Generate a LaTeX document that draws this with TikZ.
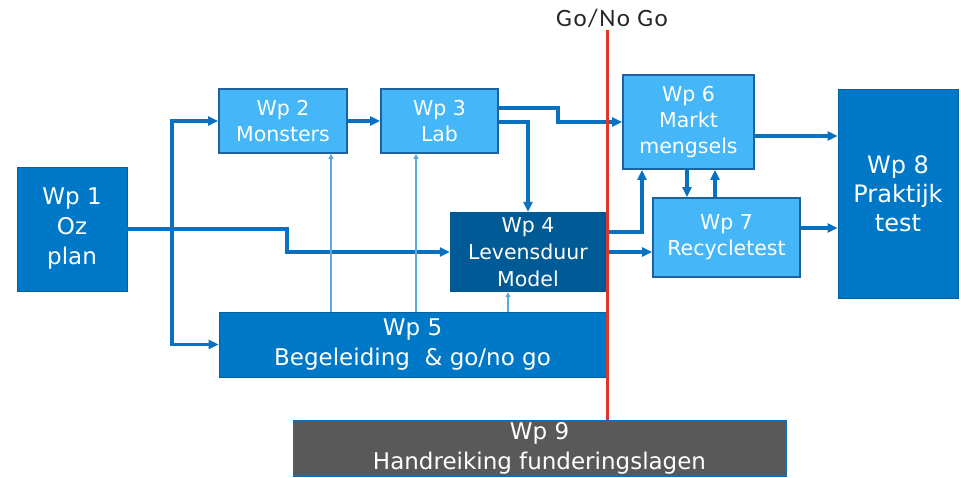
\documentclass[tikz,border=0pt]{standalone}
\usepackage{fontspec}
\setmainfont{DejaVu Sans}
\newfontfamily\calfont[LetterSpace=6]{Carlito}
\usetikzlibrary{arrows.meta,calc}
\definecolor{midblue}{HTML}{0078C8}
\definecolor{lightblue}{HTML}{45B6F7}
\definecolor{darkblue}{HTML}{005A96}
\definecolor{edgeblue}{HTML}{1F62A0}
\definecolor{connblue}{HTML}{0A70C0}
\definecolor{thinblue}{HTML}{5AA8E0}
\definecolor{wpgray}{HTML}{595959}
\definecolor{gored}{HTML}{E0352B}
\tikzset{
  wpbox/.style={rectangle, inner sep=0pt, align=center, text=white},
  lightbox/.style={wpbox, fill=lightblue, draw=edgeblue, line width=1.8pt, font=\fontsize{20.5}{26}\selectfont},
  midbox/.style={wpbox, fill=midblue, draw=midblue!80!black, line width=0.8pt, font=\fontsize{23}{30}\selectfont},
  conn/.style={draw=connblue, line width=3.2pt, -{Triangle[length=10pt,width=9pt]}},
  thinconn/.style={draw=thinblue, line width=1.3pt, -{Triangle[length=5pt,width=5pt]}},
}
\begin{document}
\begin{tikzpicture}[x=1pt,y=-1pt]
\useasboundingbox (0,0) rectangle (961,478);
% boxes
\node[midbox, minimum width=110pt, minimum height=124pt] (wp1) at (72,229) {Wp 1\\Oz\\plan};
\node[lightbox, minimum width=128pt, minimum height=64pt] (wp2) at (283,121) {Wp 2\\Monsters};
\node[lightbox, minimum width=117pt, minimum height=64pt] (wp3) at (439.5,121) {Wp 3\\Lab};
\node[wpbox, fill=darkblue, minimum width=156pt, minimum height=80pt, font=\fontsize{20.5}{27}\selectfont] (wp4) at (528,252) {Wp 4\\Levensduur\\Model};
\node[midbox, minimum width=387pt, minimum height=65pt] (wp5) at (412.5,344.5) {Wp 5\\Begeleiding\ \ \& go/no go};
\node[lightbox, minimum width=131pt, minimum height=94pt] (wp6) at (688.5,122) {Wp 6\\Markt\\mengsels};
\node[lightbox, minimum width=147pt, minimum height=79pt] (wp7) at (726.5,237.5) {Wp 7\\Recycletest};
\node[midbox, minimum width=120pt, minimum height=209pt, font=\fontsize{24}{29}\selectfont] (wp8) at (898,193.5) {Wp 8\\Praktijk\\test};
\node[wpbox, fill=wpgray, draw=connblue, line width=1pt, minimum width=493pt, minimum height=56pt, font=\fontsize{23}{30}\selectfont] (wp9) at (539.5,448) {Wp 9\\Handreiking funderingslagen};
\node[font=\calfont\fontsize{25}{28}\selectfont, text=black!85, inner sep=0pt] (gonogo) at (612,18) {Go/No Go};
% connectors
\coordinate (split) at (172,229);
\draw[conn] (wp1.east) -- (287,229) |- (wp4.west);
\draw[conn] (split) |- (wp2.west);
\draw[conn] (split) |- (wp5.west);
\draw[conn] (wp2.east) -- (wp3.west);
\draw[thinconn] (wp5.north -| 331,0) -- (wp2.south -| 331,0);
\draw[thinconn] (wp5.north -| 416,0) -- (wp3.south -| 416,0);
\draw[thinconn] (wp5.north -| 508,0) -- (wp4.south -| 508,0);
\draw[conn] (wp3.east |- 0,122) -| (wp4.north);
\draw[conn] (wp3.east |- 0,108) -- (558,108) |- (wp6.west);
\draw[conn] (wp4.east |- 0,232) -| (wp6.south -| 642,0);
\draw[conn] (wp4.east) -- (wp4.east -| wp7.west);
\draw[conn] (wp6.south -| 687,0) -- (wp7.north -| 687,0);
\draw[conn] (wp7.north -| 715,0) -- (wp6.south -| 715,0);
\draw[conn] (wp6.east |- 0,136) -- (wp8.west |- 0,136);
\draw[conn] (wp7.east |- 0,228) -- (wp8.west |- 0,228);
% go / no go line
\draw[draw=gored, line width=3pt] (607,30) -- (wp9.north -| 607,0);
\end{tikzpicture}
\end{document}
